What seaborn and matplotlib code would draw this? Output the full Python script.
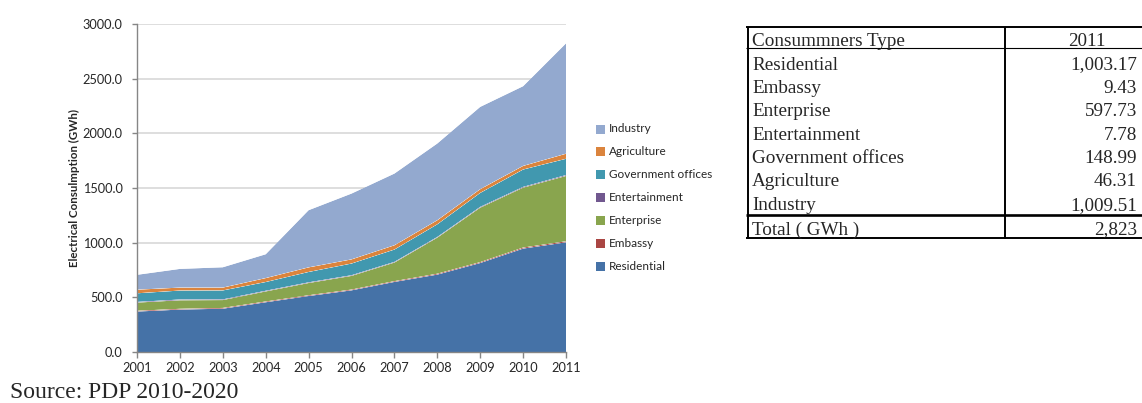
import matplotlib
matplotlib.use("Agg")
import matplotlib.pyplot as plt
from matplotlib.lines import Line2D
from matplotlib.patches import Rectangle
from matplotlib.ticker import StrMethodFormatter, MultipleLocator
import numpy as np
import pandas as pd
import seaborn as sns
import seaborn.objects as so

# ---- data (GWh) ----
years = [2001, 2002, 2003, 2004, 2005, 2006, 2007, 2008, 2009, 2010, 2011]
residential = [370, 388, 396, 455, 512, 564, 641, 708, 814, 946, 1003.17]
embassy = [7, 7, 7, 7, 7, 7, 7, 8, 8, 9, 9.43]
enterprise = [75, 78, 72, 92, 112, 125, 170, 330, 498, 548, 597.73]
entertainment = [6, 7, 6, 6, 6, 6, 6, 6, 7, 7, 7.78]
government = [79, 82, 82, 80, 95, 107, 113, 116, 128, 159, 148.99]
agriculture = [33, 27, 26, 36, 42, 38, 39, 37, 34, 33, 46.31]
industry = [136, 171, 186, 218, 523, 602, 656, 702, 753, 729, 1009.51]

categories = ["Residential", "Embassy", "Enterprise", "Entertainment",
              "Government offices", "Agriculture", "Industry"]
series = [residential, embassy, enterprise, entertainment,
          government, agriculture, industry]
colors = ["#4572A7", "#AA4643", "#89A54E", "#71588F",
          "#4198AF", "#DB843D", "#93A9CF"]

table_header = ["Consummners Type", "2011"]
total_label = "Total ( GWh )"

df = pd.DataFrame({"year": years})
for name, vals in zip(categories, series):
    df[name] = vals
long_df = df.melt(id_vars="year", var_name="type", value_name="gwh")

# ---- figure ----
W, H = 1142, 403
sns.set_style("white")
plt.rcParams["font.family"] = ["Lato", "DejaVu Sans"]
fig = plt.figure(figsize=(W / 100, H / 100), dpi=100)


def fx(px):
    return px / W


def fy(py):
    return 1 - py / H


ax = fig.add_axes([fx(137), fy(352), fx(566) - fx(137), fy(24) - fy(352)])

palette = dict(zip(categories, colors))
(
    so.Plot(long_df, x="year", y="gwh", color="type")
    .add(so.Area(alpha=1, edgewidth=0), so.Stack())
    .scale(color=so.Nominal(palette, order=categories))
    .on(ax)
    .plot()
)
# drop the automatic figure legend; a custom one is drawn below
fig.legends.clear()

ax.set_facecolor("white")
ax.set_xlim(2001, 2011)
ax.set_ylim(0, 3000)
ax.set_xlabel("")
ax.set_ylabel("")
ax.xaxis.set_major_locator(MultipleLocator(1))
ax.yaxis.set_major_locator(MultipleLocator(500))
ax.yaxis.set_major_formatter(StrMethodFormatter("{x:.1f}"))
ax.set_axisbelow(True)
ax.grid(False)
ax.yaxis.grid(True, color="#d4d4d4", linewidth=1.1)
for side in ["top", "right"]:
    ax.spines[side].set_visible(False)
for side in ["left", "bottom"]:
    ax.spines[side].set_visible(True)
    ax.spines[side].set_color("#868686")
    ax.spines[side].set_linewidth(1.0)
ax.tick_params(axis="y", direction="out", length=3.5, width=1, color="#868686",
               labelsize=9.2, pad=7, left=True)
ax.tick_params(axis="x", direction="out", length=4, width=1, color="#868686",
               labelsize=9.2, pad=3, bottom=True)
for lab in ax.get_xticklabels() + ax.get_yticklabels():
    lab.set_fontfamily(["Lato", "DejaVu Sans"])

fig.text(fx(74), fy(188), "Electrical Consulmption (GWh)", rotation=90,
         ha="center", va="center", fontsize=8.3, fontweight="bold")

# ---- legend (top entry = top of the stack) ----
for i, (name, col) in enumerate(zip(categories[::-1], colors[::-1])):
    yc = 129 + 22.9 * i
    fig.add_artist(Rectangle((fx(596), fy(yc + 4.5)), fx(9), 9 / H,
                             transform=fig.transFigure, facecolor=col,
                             edgecolor="none"))
    fig.text(fx(609), fy(yc), name, ha="left", va="center", fontsize=8.5)

# ---- table ----
serif = ["Liberation Serif", "DejaVu Serif"]
tfs = 13.8


def hline(y, x0, x1, lw):
    fig.add_artist(Line2D([fx(x0), fx(x1)], [fy(y), fy(y)],
                          transform=fig.transFigure, color="black",
                          linewidth=lw, solid_capstyle="butt"))


def vline(x, y0, y1, lw):
    fig.add_artist(Line2D([fx(x), fx(x)], [fy(y0), fy(y1)],
                          transform=fig.transFigure, color="black",
                          linewidth=lw, solid_capstyle="butt"))


hline(27, 746, W, 1.4)
hline(48, 746, W, 0.8)
hline(215, 746, W, 1.9)
hline(238, 746, W, 1.4)
vline(747.5, 26.5, 238.5, 1.4)
vline(1005, 26.5, 238.5, 1.4)

base_off = 6.5
fig.text(fx(752), fy(40 + base_off), table_header[0], ha="left",
         va="baseline", fontsize=tfs, family=serif)
fig.text(fx(1087), fy(40 + base_off), table_header[1], ha="center",
         va="baseline", fontsize=tfs, family=serif)
for i, (name, vals) in enumerate(zip(categories, series)):
    yc = 63 + 23.4 * i
    fig.text(fx(752), fy(yc + base_off), name, ha="left", va="baseline",
             fontsize=tfs, family=serif)
    fig.text(fx(1137), fy(yc + base_off), f"{vals[-1]:,.2f}", ha="right",
             va="baseline", fontsize=tfs, family=serif)
total = sum(s[-1] for s in series)
fig.text(fx(752), fy(228 + base_off), total_label, ha="left", va="baseline",
         fontsize=tfs, family=serif)
fig.text(fx(1137), fy(228 + base_off), f"{total:,.0f}", ha="right",
         va="baseline", fontsize=tfs, family=serif)

# ---- source note ----
fig.text(fx(10), fy(398.5), "Source: PDP 2010-2020", ha="left", va="baseline",
         fontsize=17, family=serif)

fig.savefig("out.png", dpi=100)
